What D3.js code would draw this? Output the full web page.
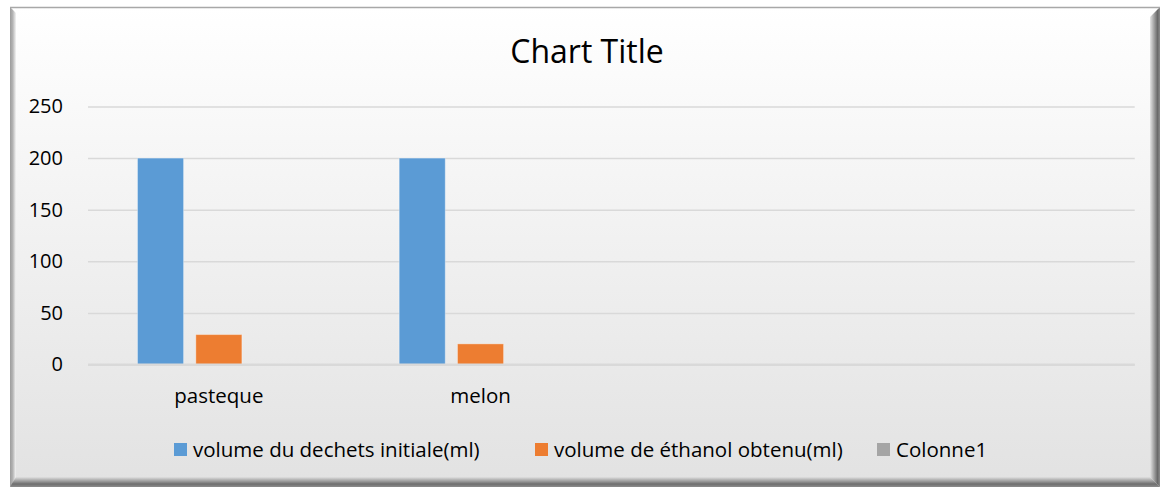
<!DOCTYPE html>
<html>
<head>
<meta charset="utf-8">
<script src="https://cdn.jsdelivr.net/npm/d3@7"></script>
<style>
  body { margin: 0; background: #ffffff; }
  svg { display: block; }
</style>
</head>
<body>
<div id="chart"></div>
<script>
// chart data
const categories = ['pasteque', 'melon', '', ''];
const seriesNames = ['volume du dechets initiale(ml)', 'volume de éthanol obtenu(ml)', 'Colonne1'];
const dechetsInitial = [200, 200, null, null];
const ethanolObtenu = [29, 20, null, null];
const colonne1 = [null, null, null, null];
const yTicks = [0, 50, 100, 150, 200, 250];
const chartTitle = 'Chart Title';

const seriesValues = [dechetsInitial, ethanolObtenu, colonne1];
const seriesColors = ['#5b9bd5', '#ed7d31', '#a5a5a5'];

const W = 1162, H = 488;
const font = "'Open Sans', 'DejaVu Sans', sans-serif";

const svg = d3.select('#chart')
    .append('svg')
    .attr('width', W)
    .attr('height', H);

const defs = svg.append('defs');
const bg = defs.append('linearGradient').attr('id', 'bg')
    .attr('x1', 0).attr('y1', 0).attr('x2', 0).attr('y2', 1);
bg.append('stop').attr('offset', '0%').attr('stop-color', '#ffffff');
bg.append('stop').attr('offset', '100%').attr('stop-color', '#e2e2e2');

const rightG = defs.append('linearGradient').attr('id', 'bevelRight')
    .attr('x1', 0).attr('y1', 0).attr('x2', 1).attr('y2', 0);
rightG.append('stop').attr('offset', '0%').attr('stop-color', '#e4e4e4');
rightG.append('stop').attr('offset', '75%').attr('stop-color', '#6a6a6a');
rightG.append('stop').attr('offset', '100%').attr('stop-color', '#8a8a8a');

const bottomG = defs.append('linearGradient').attr('id', 'bevelBottom')
    .attr('x1', 0).attr('y1', 0).attr('x2', 0).attr('y2', 1);
bottomG.append('stop').attr('offset', '0%').attr('stop-color', '#e0e0e0');
bottomG.append('stop').attr('offset', '70%').attr('stop-color', '#6e6e6e');
bottomG.append('stop').attr('offset', '100%').attr('stop-color', '#8c8c8c');

const leftG = defs.append('linearGradient').attr('id', 'bevelLeft')
    .attr('x1', 0).attr('y1', 0).attr('x2', 1).attr('y2', 0);
leftG.append('stop').attr('offset', '0%').attr('stop-color', '#9c9c9c');
leftG.append('stop').attr('offset', '45%').attr('stop-color', '#b4b4b4');
leftG.append('stop').attr('offset', '100%').attr('stop-color', '#f4f4f4');

// frame with bevel
svg.append('rect')
    .attr('x', 10).attr('y', 7)
    .attr('width', 1150).attr('height', 480)
    .attr('fill', 'url(#bg)');
svg.append('polygon')
    .attr('points', '10,7 16,13 16,481 10,487')
    .attr('fill', 'url(#bevelLeft)');
svg.append('polygon')
    .attr('points', '1150,17 1160,7 1160,487 1150,477')
    .attr('fill', 'url(#bevelRight)');
svg.append('polygon')
    .attr('points', '10,487 16,477 1150,477 1160,487')
    .attr('fill', 'url(#bevelBottom)');
svg.append('line')
    .attr('x1', 10).attr('x2', 1160)
    .attr('y1', 7.5).attr('y2', 7.5)
    .attr('stroke', '#a8a8a8').attr('stroke-width', 1.5);

// scales
const x0 = d3.scaleBand()
    .domain(d3.range(categories.length))
    .range([88, 1134.7])
    .padding(0);
const x1 = d3.scaleBand()
    .domain(d3.range(seriesNames.length))
    .range([49.5, 212.2])
    .paddingInner(0.21)
    .paddingOuter(0);
const y = d3.scaleLinear()
    .domain([0, 250])
    .range([364.5, 106.5]);

// gridlines
const yAxis = d3.axisLeft(y)
    .tickValues(yTicks)
    .tickSize(-(1134.7 - 88))
    .tickPadding(25);
const yAxisGroup = svg.append('g')
    .attr('transform', 'translate(88,0)')
    .call(yAxis);
yAxisGroup.select('.domain').remove();
yAxisGroup.selectAll('.tick line')
    .attr('stroke', '#d9d9d9')
    .attr('stroke-width', d => d === 0 ? 2 : 1.5);
yAxisGroup.selectAll('.tick text')
    .attr('font-family', font)
    .attr('font-size', '20px')
    .attr('fill', '#000');

// bars
const groups = svg.append('g').selectAll('g')
    .data(categories.map((c, i) => i))
    .enter()
    .append('g')
    .attr('transform', i => `translate(${x0(i)},0)`);
groups.selectAll('rect')
    .data(i => seriesValues.map((vals, s) => ({s, v: vals[i]})).filter(d => d.v != null))
    .enter()
    .append('rect')
    .attr('x', d => x1(d.s))
    .attr('width', x1.bandwidth())
    .attr('y', d => y(d.v))
    .attr('height', d => y(0) - y(d.v))
    .attr('fill', d => seriesColors[d.s])
    .attr('stroke', 'rgba(255,255,255,0.35)')
    .attr('stroke-width', 1);

// zero line on top
svg.append('line')
    .attr('x1', 88).attr('x2', 1134.7)
    .attr('y1', y(0)).attr('y2', y(0))
    .attr('stroke', '#d9d9d9').attr('stroke-width', 2);

// category axis
const xAxis = d3.axisBottom(x0)
    .tickFormat(i => categories[i])
    .tickSize(0)
    .tickPadding(24);
const xAxisGroup = svg.append('g')
    .attr('transform', `translate(0,${y(0)})`)
    .call(xAxis);
xAxisGroup.select('.domain').remove();
xAxisGroup.selectAll('.tick text')
    .attr('font-family', font)
    .attr('font-size', '20.5px')
    .attr('fill', '#000');

// title
svg.append('text')
    .attr('x', 587)
    .attr('y', 63)
    .attr('text-anchor', 'middle')
    .attr('font-family', font)
    .attr('font-size', '32px')
    .attr('fill', '#000')
    .text(chartTitle);

// legend
const legendX = [174, 535, 877];
const legend = svg.append('g').selectAll('g')
    .data(seriesNames)
    .enter()
    .append('g')
    .attr('transform', (d, i) => `translate(${legendX[i]},443)`);
legend.append('rect')
    .attr('width', 13).attr('height', 13)
    .attr('fill', (d, i) => seriesColors[i]);
legend.append('text')
    .attr('x', 19)
    .attr('y', 7)
    .attr('dy', '0.35em')
    .attr('font-family', font)
    .attr('font-size', '20.5px')
    .attr('fill', '#000')
    .text(d => d);
</script>
</body>
</html>
